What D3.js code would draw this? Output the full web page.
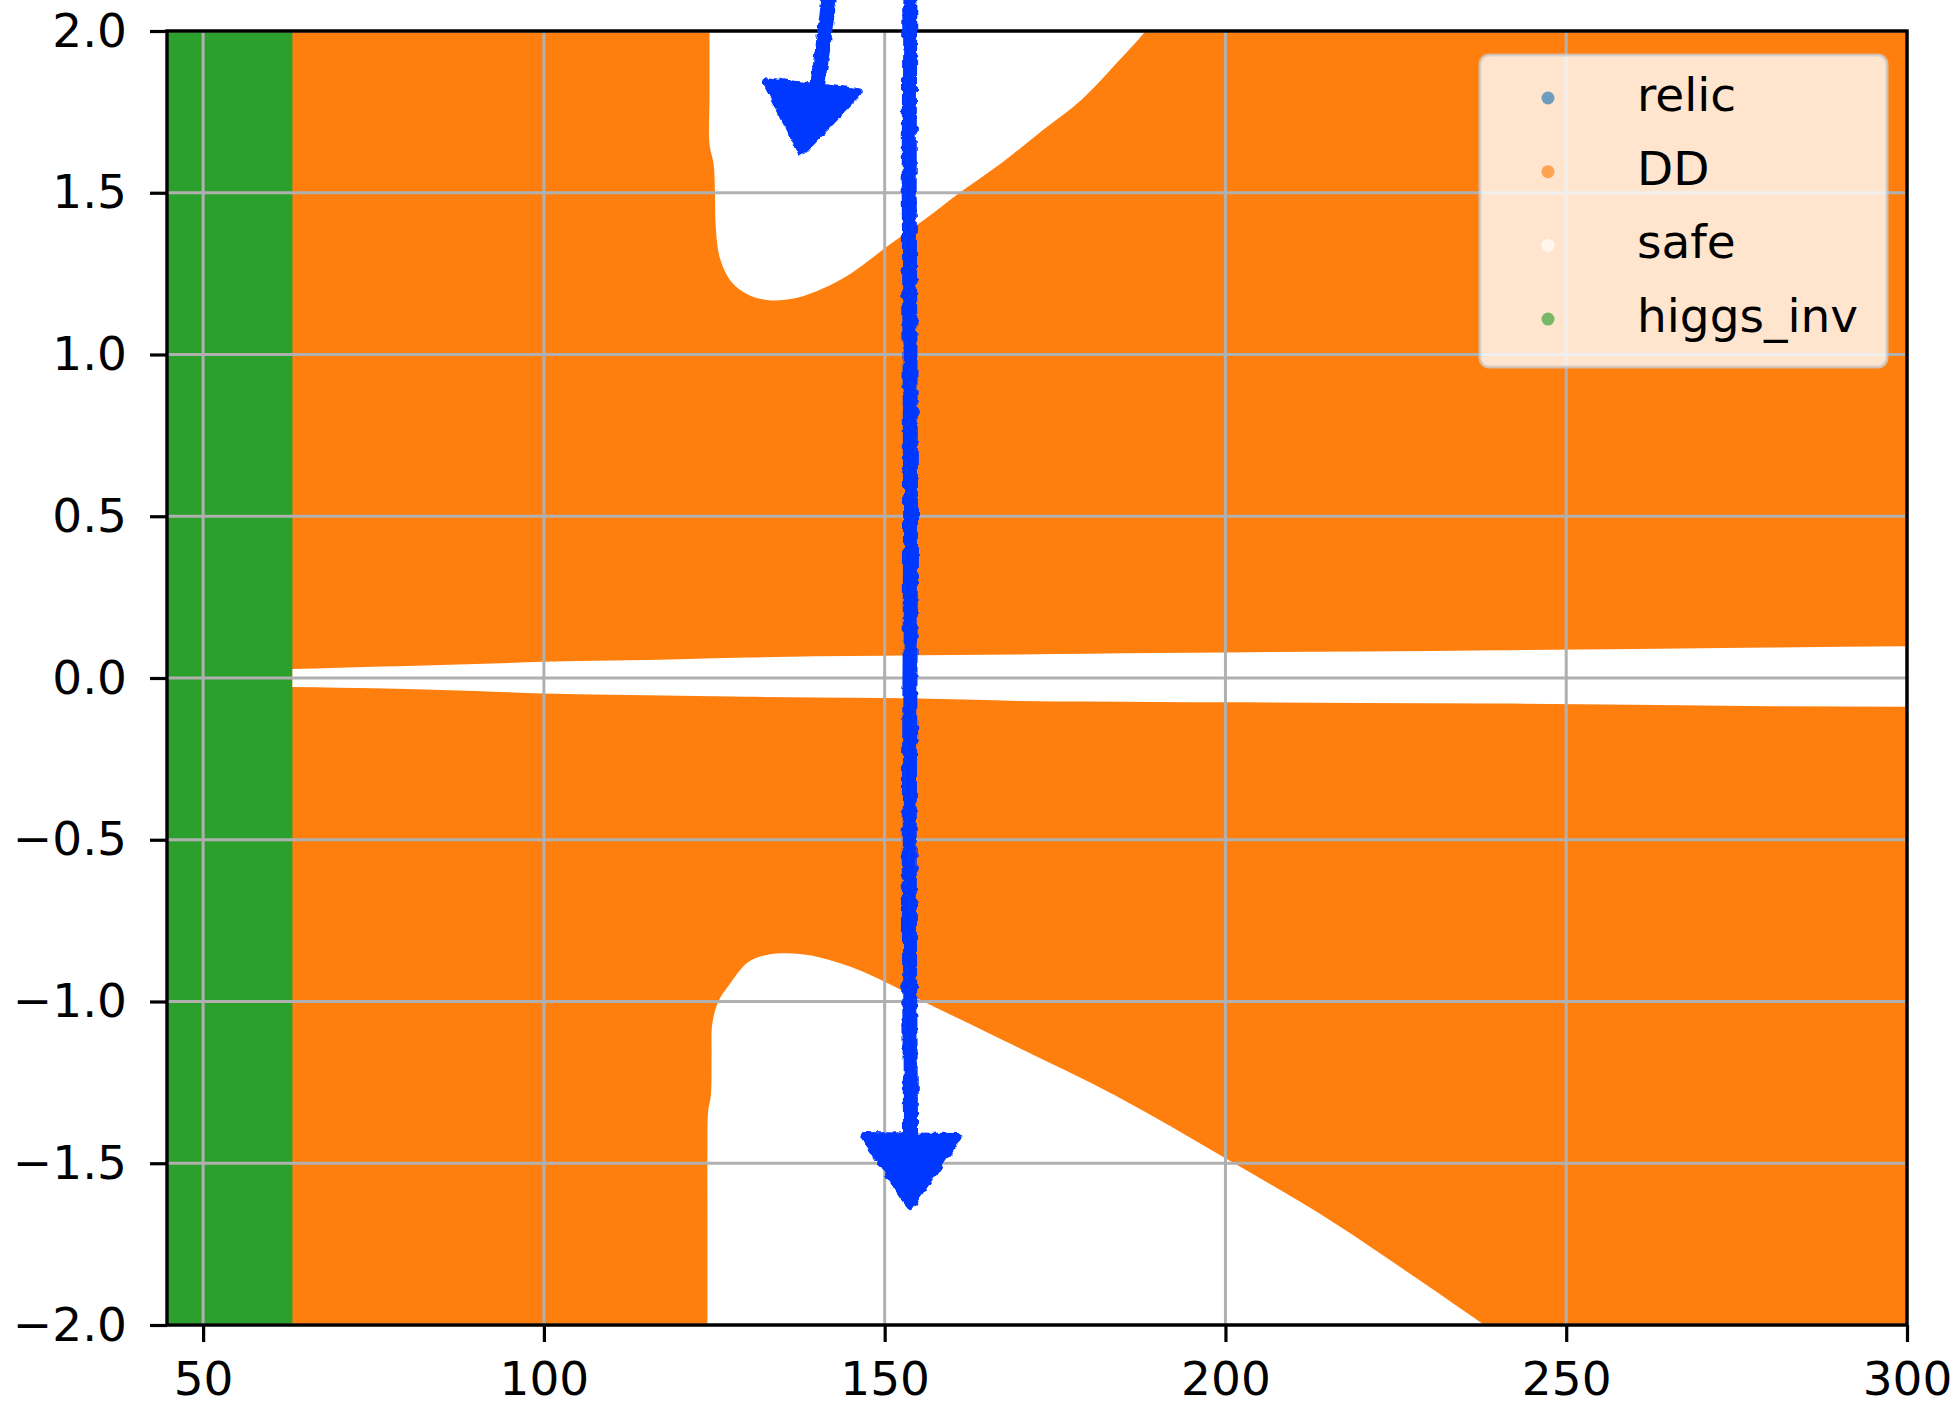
<!DOCTYPE html>
<html lang="en">
<head>
  <meta charset="utf-8">
  <title>DM scan – relic / DD / safe / higgs_inv</title>
  <script src="https://d3js.org/d3.v7.min.js"></script>
  <style>
    body { margin: 0; background: #fff; }
    text { font-family: "DejaVu Sans", sans-serif; fill: #000; }
  </style>
</head>
<body>
  <div id="chart"></div>

  <script>
    var width = 1959,
        height = 1406;

    // tick values
    var xTicks = [50, 100, 150, 200, 250, 300];
    var yTicks = [2.0, 1.5, 1.0, 0.5, 0.0, -0.5, -1.0, -1.5, -2.0];

    // higgs_inv covers everything left of this mass
    var higgsInvEdge = 63.1;

    // thin safe band around y = 0 (upper / lower edge vs x)
    var bandX  = [63.1, 70, 80, 90, 100, 110, 120, 130, 140, 150, 160, 170, 180, 190, 200, 220, 240, 260, 280, 300];
    var bandHi = [0.028, 0.032, 0.037, 0.043, 0.050, 0.054, 0.058, 0.063, 0.067, 0.069, 0.071, 0.073, 0.075, 0.077, 0.079, 0.082, 0.086, 0.090, 0.094, 0.098];
    var bandLo = [-0.028, -0.030, -0.034, -0.040, -0.048, -0.052, -0.055, -0.058, -0.060, -0.062, -0.066, -0.071, -0.073, -0.074, -0.075, -0.077, -0.079, -0.083, -0.087, -0.089];

    // upper safe pocket outline (x, y), closed above the axes
    var upperSafe = [
      [124.3, 2.3], [124.3, 2.0], [124.3, 1.8], [124.3, 1.65], [124.9, 1.59],
      [125.1, 1.50], [125.2, 1.40], [125.8, 1.30], [127.5, 1.225], [130.0, 1.185],
      [133.0, 1.168], [137.0, 1.175], [141.0, 1.205], [145.0, 1.25], [150.5, 1.336],
      [156.0, 1.42], [161.3, 1.505], [167.0, 1.59], [173.0, 1.69], [179.0, 1.79],
      [184.0, 1.90], [189.0, 2.02], [194.0, 2.2], [196.0, 2.3]
    ];

    // lower safe pocket outline (x, y), closed below the axes
    var lowerSafe = [
      [124.0, -2.3], [124.0, -2.0], [124.0, -1.7], [124.0, -1.45], [124.1, -1.34],
      [124.5, -1.29], [124.6, -1.17], [124.7, -1.07], [125.6, -1.00], [127.3, -0.945],
      [130.0, -0.878], [133.0, -0.855], [136.5, -0.852], [140.5, -0.864], [146.5, -0.905],
      [156.0, -1.003], [168.0, -1.126], [183.9, -1.291], [200.2, -1.487], [215.8, -1.682],
      [228.0, -1.855], [238.0, -2.0], [252.0, -2.2], [254.0, -2.3]
    ];

    var legendLabels = ["relic", "DD", "safe", "higgs_inv"];
    var legendColors = ["#1f77b4", "#ff7f0e", "#ffffff", "#2ca02c"];

    // hand drawn pen marks, in data units
    var penLines = [
      [[141.9, 2.11], [141.4, 2.03], [140.8, 1.93], [140.2, 1.84]],
      [[153.7, 2.11], [153.6, 1.5], [153.8, 0.5], [153.6, -0.5], [153.8, -1.43]]
    ];
    var penHeads = [
      [[132.6, 1.845], [146.2, 1.811], [137.8, 1.626]],
      [[146.9, -1.416], [160.7, -1.419], [153.8, -1.632]]
    ];

    var margin = {left: 167, right: 52, top: 31, bottom: 81};

    var x = d3.scaleLinear().domain([44.7, 300]).range([margin.left, width - margin.right]);
    var y = d3.scaleLinear().domain([-2, 2]).range([height - margin.bottom, margin.top]);

    var svg = d3.select("#chart").append("svg")
      .attr("width", width)
      .attr("height", height);

    var defs = svg.append("defs");
    defs.append("clipPath").attr("id", "plot-clip")
      .append("rect")
      .attr("x", x(44.7)).attr("y", y(2))
      .attr("width", x(300) - x(44.7)).attr("height", y(-2) - y(2));

    var rough = defs.append("filter").attr("id", "rough")
      .attr("x", "-20%").attr("y", "-20%").attr("width", "140%").attr("height", "140%");
    rough.append("feTurbulence").attr("type", "fractalNoise")
      .attr("baseFrequency", 0.12).attr("numOctaves", 2).attr("result", "noise");
    rough.append("feDisplacementMap").attr("in", "SourceGraphic").attr("in2", "noise")
      .attr("scale", 6).attr("xChannelSelector", "R").attr("yChannelSelector", "G");

    var plot = svg.append("g").attr("clip-path", "url(#plot-clip)");

    // DD everywhere
    plot.append("rect")
      .attr("x", x(44.7)).attr("y", y(2))
      .attr("width", x(300) - x(44.7)).attr("height", y(-2) - y(2))
      .attr("fill", "#ff7f0e");

    // higgs_inv strip
    plot.append("rect")
      .attr("x", x(44.7)).attr("y", y(2))
      .attr("width", x(higgsInvEdge) - x(44.7)).attr("height", y(-2) - y(2))
      .attr("fill", "#2ca02c");

    // safe band near 0
    var band = bandX.map((d, i) => ({x: d, hi: bandHi[i], lo: bandLo[i]}));
    plot.append("path")
      .datum(band)
      .attr("fill", "#ffffff")
      .attr("d", d3.area()
        .x(d => x(d.x))
        .y0(d => y(d.lo))
        .y1(d => y(d.hi))
        .curve(d3.curveMonotoneX));

    // safe pockets
    var pocket = d3.line().x(d => x(d[0])).y(d => y(d[1])).curve(d3.curveCatmullRomClosed.alpha(0.5));
    plot.append("path").attr("d", pocket(upperSafe)).attr("fill", "#ffffff");
    plot.append("path").attr("d", pocket(lowerSafe)).attr("fill", "#ffffff");

    // grid on top of the points
    var grid = svg.append("g").attr("stroke", "#b0b0b0").attr("stroke-width", 3);
    grid.selectAll(".gx").data(xTicks).enter().append("line")
      .attr("x1", d => x(d)).attr("x2", d => x(d))
      .attr("y1", y(2)).attr("y2", y(-2));
    grid.selectAll(".gy").data(yTicks).enter().append("line")
      .attr("x1", x(44.7)).attr("x2", x(300))
      .attr("y1", d => y(d)).attr("y2", d => y(d));

    // axes
    var fmtY = d => d3.format(".1f")(d).replace("-", "\u2212");

    var xAxis = svg.append("g")
      .attr("transform", `translate(0,${y(-2)})`)
      .call(d3.axisBottom(x).tickValues(xTicks).tickSize(17).tickSizeOuter(0).tickPadding(20));
    var yAxis = svg.append("g")
      .attr("transform", `translate(${x(44.7)},0)`)
      .call(d3.axisLeft(y).tickValues(yTicks).tickFormat(fmtY).tickSize(17).tickSizeOuter(0).tickPadding(23));

    [xAxis, yAxis].forEach(a => {
      a.select(".domain").remove();
      a.selectAll(".tick line").attr("stroke", "#000").attr("stroke-width", 3.2);
      a.selectAll(".tick text").attr("font-size", 47).attr("font-family", "DejaVu Sans");
    });

    // frame
    svg.append("rect")
      .attr("x", x(44.7)).attr("y", y(2))
      .attr("width", x(300) - x(44.7)).attr("height", y(-2) - y(2))
      .attr("fill", "none").attr("stroke", "#000").attr("stroke-width", 3.4);

    // legend
    var legend = svg.append("g").attr("transform", "translate(1480,55)");
    legend.append("rect")
      .attr("width", 407).attr("height", 312)
      .attr("rx", 9).attr("ry", 9)
      .attr("fill", "#ffffff").attr("fill-opacity", 0.8)
      .attr("stroke", "#cccccc").attr("stroke-opacity", 0.8).attr("stroke-width", 3);

    legend.selectAll("circle")
      .data(legendLabels)
      .enter()
      .append("circle")
      .attr("cx", 68)
      .attr("cy", (d, i) => 43 + i * 73.7)
      .attr("r", 6.5)
      .attr("fill", (d, i) => legendColors[i])
      .attr("fill-opacity", 0.65);

    legend.selectAll("text")
      .data(legendLabels)
      .enter()
      .append("text")
      .attr("x", 157)
      .attr("y", (d, i) => 56 + i * 73.7)
      .attr("font-size", 47)
      .text(d => d);

    // pen marks
    var pen = svg.append("g").attr("filter", "url(#rough)");
    var penLine = d3.line().x(d => x(d[0])).y(d => y(d[1])).curve(d3.curveCatmullRom);
    pen.selectAll(".stroke").data(penLines).enter().append("path")
      .attr("d", penLine)
      .attr("fill", "none")
      .attr("stroke", "#0538ff")
      .attr("stroke-width", 15)
      .attr("stroke-linecap", "round");
    pen.selectAll(".head").data(penHeads).enter().append("path")
      .attr("d", d => d3.line().x(p => x(p[0])).y(p => y(p[1])).curve(d3.curveLinearClosed)(d))
      .attr("fill", "#0538ff")
      .attr("stroke", "#0538ff")
      .attr("stroke-width", 8)
      .attr("stroke-linejoin", "round");
  </script>
</body>
</html>
